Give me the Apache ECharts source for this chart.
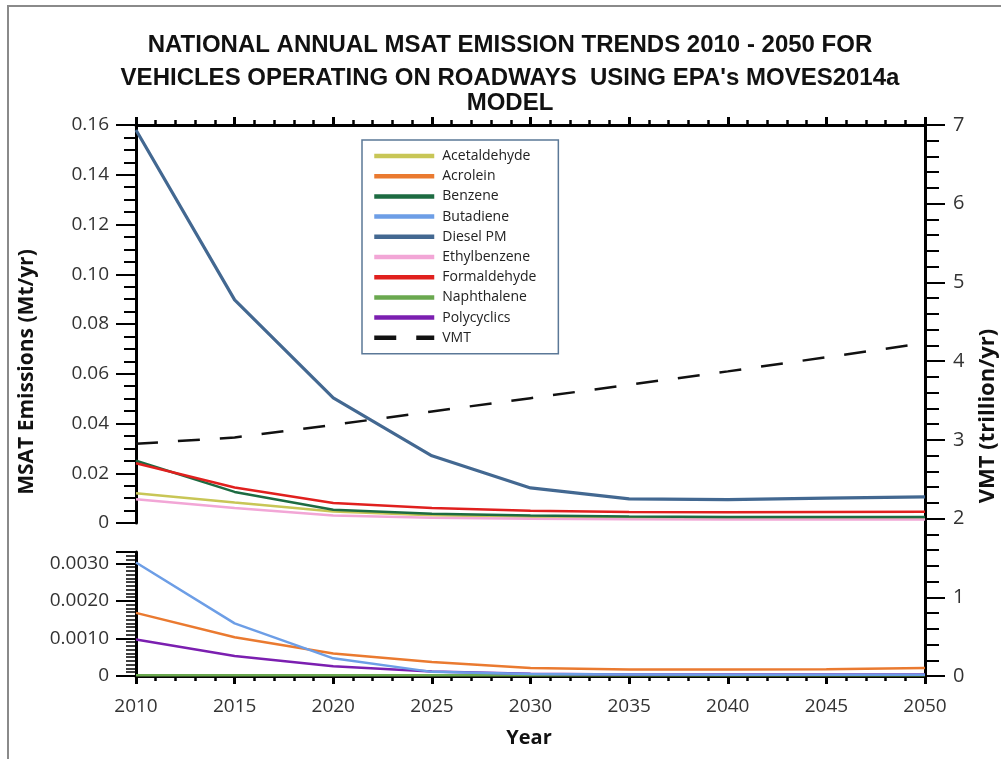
<!DOCTYPE html>
<html>
<head>
<meta charset="utf-8">
<script src="https://cdn.jsdelivr.net/npm/echarts@6/dist/echarts.min.js"></script>
<style>
  html, body { margin: 0; padding: 0; background: #fff; }
  #main { width: 1001px; height: 759px; }
</style>
</head>
<body>
<div id="main"></div>
<script>
// data
var years = [2010, 2015, 2020, 2025, 2030, 2035, 2040, 2045, 2050];

// upper panel (Mt/yr)
var acetaldehyde = [0.0120, 0.0082, 0.0046, 0.0031, 0.0025, 0.0022, 0.0021, 0.0021, 0.0021];
var benzene      = [0.0250, 0.0125, 0.0053, 0.0037, 0.0030, 0.0026, 0.0024, 0.0024, 0.0024];
var dieselPM     = [0.1580, 0.0897, 0.0503, 0.0270, 0.0141, 0.0097, 0.0094, 0.0100, 0.0105];
var ethylbenzene = [0.0095, 0.0060, 0.0030, 0.0021, 0.0017, 0.0015, 0.0014, 0.0014, 0.0014];
var formaldehyde = [0.0240, 0.0143, 0.0080, 0.0060, 0.0049, 0.0044, 0.0043, 0.0044, 0.0045];

// lower panel (Mt/yr)
var acrolein     = [0.00168, 0.00103, 0.00060, 0.00037, 0.00021, 0.00017, 0.00017, 0.00018, 0.00021];
var butadiene    = [0.00302, 0.00140, 0.00047, 0.00011, 0.00005, 0.00004, 0.00003, 0.00003, 0.00003];
var naphthalene  = [0.00002, 0.00002, 0.00002, 0.00002, 0.00002, 0.00002, 0.00002, 0.00002, 0.00002];
var polycyclics  = [0.00097, 0.00053, 0.00026, 0.00012, 0.00006, 0.00004, 0.00004, 0.00004, 0.00004];

// VMT (trillion/yr), right axis
var vmt = [2.95, 3.03, 3.19, 3.36, 3.53, 3.70, 3.87, 4.05, 4.23];

var legendNames = ['Acetaldehyde', 'Acrolein', 'Benzene', 'Butadiene', 'Diesel PM',
  'Ethylbenzene', 'Formaldehyde', 'Naphthalene', 'Polycyclics', 'VMT'];

function pairs(arr) {
  return years.map(function (y, i) { return [y, arr[i]]; });
}

var FONT = '"Open Sans", "Liberation Sans", sans-serif';
var labelColor = '#333';

var chartDom = document.getElementById('main');
var myChart = echarts.init(chartDom, null, { renderer: 'canvas' });

function line(name, data, color, xi, yi, width) {
  return {
    name: name,
    type: 'line',
    xAxisIndex: xi,
    yAxisIndex: yi,
    symbol: 'none',
    showSymbol: false,
    animation: false,
    lineStyle: { color: color, width: width || 2.5 },
    itemStyle: { color: color },
    data: pairs(data)
  };
}

var option = {
  backgroundColor: '#fff',
  animation: false,
  graphic: [
    { type: 'line', shape: { x1: 8, y1: 6, x2: 8, y2: 759 }, style: { stroke: '#8a8a8a', lineWidth: 2 } },
    { type: 'line', shape: { x1: 7, y1: 6, x2: 1001, y2: 6 }, style: { stroke: '#8a8a8a', lineWidth: 2 } },
    { type: 'text', x: 510, y: 45, style: { text: 'NATIONAL ANNUAL MSAT EMISSION TRENDS 2010 - 2050 FOR', font: 'bold 24px "Liberation Sans Narrow", sans-serif', fill: '#111', textAlign: 'center', textVerticalAlign: 'middle' } },
    { type: 'text', x: 510, y: 78, style: { text: "VEHICLES OPERATING ON ROADWAYS  USING EPA's MOVES2014a", font: 'bold 24px "Liberation Sans Narrow", sans-serif', fill: '#111', textAlign: 'center', textVerticalAlign: 'middle' } },
    { type: 'text', x: 510, y: 103, style: { text: 'MODEL', font: 'bold 24px "Liberation Sans Narrow", sans-serif', fill: '#111', textAlign: 'center', textVerticalAlign: 'middle' } },
    { type: 'text', x: 27, y: 372, rotation: Math.PI / 2, style: { text: 'MSAT Emissions (Mt/yr)', font: 'bold 21px ' + FONT, fill: '#111', textAlign: 'center', textVerticalAlign: 'middle' } },
    { type: 'text', x: 988, y: 416, rotation: Math.PI / 2, style: { text: 'VMT (trillion/yr)', font: 'bold 22px ' + FONT, fill: '#111', textAlign: 'center', textVerticalAlign: 'middle' } },
    { type: 'text', x: 529, y: 738, style: { text: 'Year', font: 'bold 20px ' + FONT, fill: '#111', textAlign: 'center', textVerticalAlign: 'middle' } }
  ],
  legend: {
    data: legendNames,
    orient: 'vertical',
    left: 362,
    top: 140,
    padding: [9, 22, 9, 10],
    itemWidth: 60,
    itemHeight: 14,
    itemGap: 6.2,
    borderColor: '#5b7897',
    borderWidth: 1.5,
    backgroundColor: '#fff',
    itemStyle: { opacity: 0 },
    lineStyle: { width: 4.5 },
    textStyle: { fontFamily: FONT, fontSize: 14, color: '#222', padding: [0, 0, 0, 3] }
  },
  grid: [
    { left: 136, right: 76, top: 125, bottom: 236 },
    { left: 136, right: 76, top: 552, bottom: 83 },
    { left: 136, right: 76, top: 125, bottom: 83 }
  ],
  xAxis: [
    {
      gridIndex: 0, type: 'value', position: 'top', min: 2010, max: 2050, interval: 5,
      axisLine: { show: true, onZero: false, lineStyle: { color: '#000', width: 3 } },
      axisTick: { show: true, inside: false, length: 8, lineStyle: { color: '#000', width: 3 } },
      minorTick: { show: true, splitNumber: 5, length: 5, lineStyle: { color: '#000', width: 2.5 } },
      axisLabel: { show: false },
      splitLine: { show: false }
    },
    {
      gridIndex: 1, type: 'value', position: 'bottom', min: 2010, max: 2050, interval: 5,
      axisLine: { show: true, onZero: false, lineStyle: { color: '#000', width: 3 } },
      axisTick: { show: true, inside: false, length: 8, lineStyle: { color: '#000', width: 3 } },
      minorTick: { show: true, splitNumber: 5, length: 5, lineStyle: { color: '#000', width: 2.5 } },
      axisLabel: {
        show: true, margin: 21, fontFamily: FONT, fontSize: 19, color: labelColor,
        formatter: function (v) { return String(v); }
      },
      splitLine: { show: false }
    },
    {
      gridIndex: 2, type: 'value', min: 2010, max: 2050, show: false
    }
  ],
  yAxis: [
    {
      gridIndex: 0, type: 'value', position: 'left', min: 0, max: 0.16, interval: 0.02,
      axisLine: { show: true, onZero: false, lineStyle: { color: '#000', width: 3 } },
      axisTick: { show: true, inside: false, length: 20, lineStyle: { color: '#000', width: 2 } },
      minorTick: { show: true, splitNumber: 4, length: 12, lineStyle: { color: '#000', width: 2 } },
      axisLabel: {
        margin: 27, fontFamily: FONT, fontSize: 19, color: labelColor,
        formatter: function (v) { return v === 0 ? '0' : v.toFixed(2); }
      },
      splitLine: { show: false }
    },
    {
      gridIndex: 1, type: 'value', position: 'left', min: 0, max: 0.0033, interval: 0.001,
      axisLine: { show: true, onZero: false, lineStyle: { color: '#000', width: 3 } },
      axisTick: { show: true, inside: false, length: 20, lineStyle: { color: '#000', width: 2 } },
      minorTick: { show: true, splitNumber: 10, length: 10, lineStyle: { color: '#000', width: 1.5 } },
      axisLabel: {
        margin: 27, fontFamily: FONT, fontSize: 19, color: labelColor, showMaxLabel: false,
        formatter: function (v) {
          if (v > 0.0031) return '';
          return v === 0 ? '0' : v.toFixed(4);
        }
      },
      splitLine: { show: false }
    },
    {
      gridIndex: 2, type: 'value', position: 'right', min: 0, max: 7, interval: 1,
      axisLine: { show: true, onZero: false, lineStyle: { color: '#000', width: 3 } },
      axisTick: { show: true, inside: false, length: 20, lineStyle: { color: '#000', width: 2 } },
      minorTick: { show: true, splitNumber: 5, length: 14, lineStyle: { color: '#000', width: 2 } },
      axisLabel: { margin: 28, fontFamily: FONT, fontSize: 20, color: labelColor },
      splitLine: { show: false }
    }
  ],
  series: [
    line('Acetaldehyde', acetaldehyde, '#c8c656', 0, 0),
    line('Ethylbenzene', ethylbenzene, '#f2a6d6', 0, 0),
    line('Benzene', benzene, '#1d6b42', 0, 0),
    line('Formaldehyde', formaldehyde, '#e0201e', 0, 0),
    line('Diesel PM', dieselPM, '#436891', 0, 0, 3.2),
    line('Naphthalene', naphthalene, '#6aa84f', 1, 1),
    line('Polycyclics', polycyclics, '#7b1fb0', 1, 1),
    line('Acrolein', acrolein, '#ea7a30', 1, 1),
    line('Butadiene', butadiene, '#6d9ee6', 1, 1),
    {
      name: 'VMT',
      type: 'line',
      xAxisIndex: 2,
      yAxisIndex: 2,
      symbol: 'none',
      showSymbol: false,
      lineStyle: { color: '#111', width: 2.5, type: [22, 20] },
      itemStyle: { color: '#111' },
      data: pairs(vmt)
    }
  ]
};

option && myChart.setOption(option);
</script>
</body>
</html>
